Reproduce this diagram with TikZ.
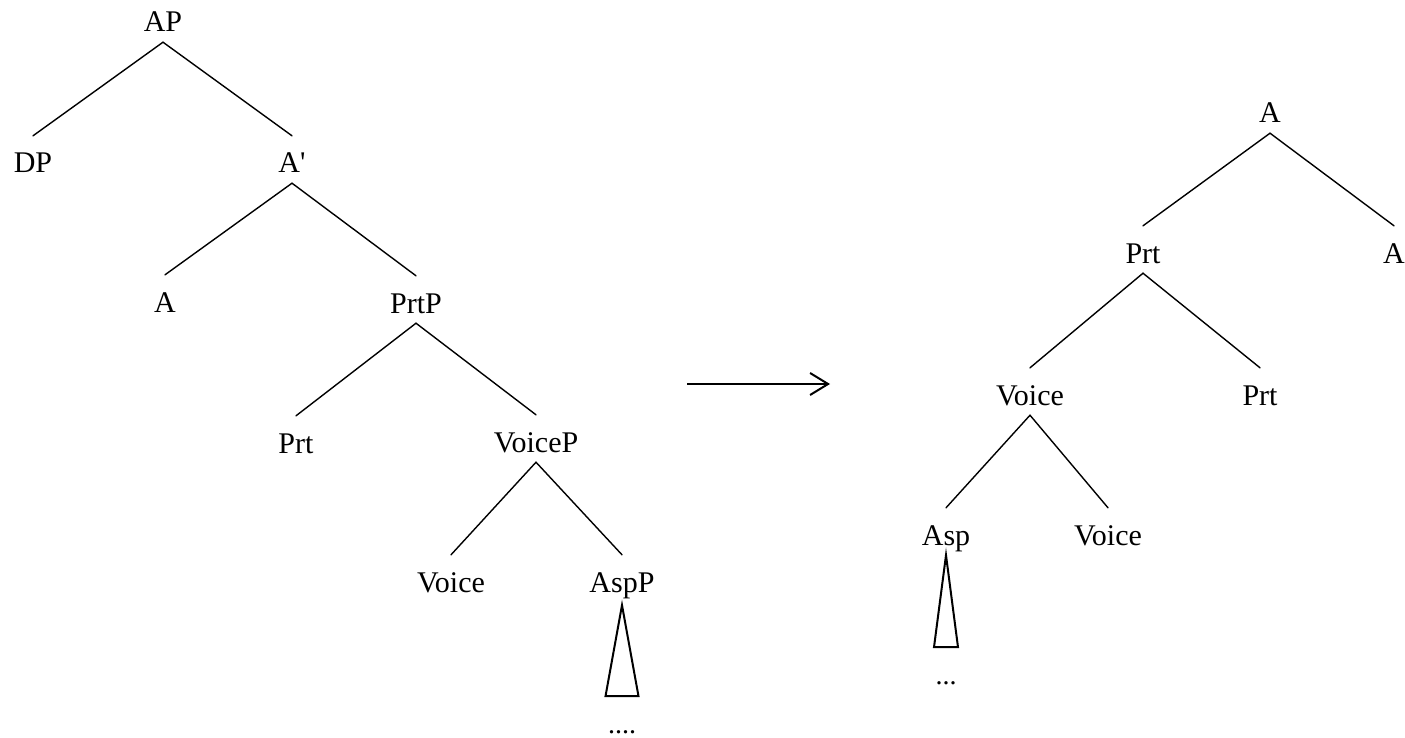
\documentclass[tikz,border=0pt]{standalone}
\usepackage{fontspec}
\setmainfont{Liberation Serif}
\usetikzlibrary{arrows.meta}
\begin{document}
\begin{tikzpicture}[x=1pt,y=-1pt,
  tn/.style={anchor=base, inner sep=0pt, text height=37pt, text depth=10pt, font=\fontsize{30}{36}\selectfont},
  dots/.style={anchor=base, inner sep=0pt, font=\fontsize{28}{34}\selectfont},
  branch/.style={line width=1.4pt, line cap=round},
  tri/.style={line width=2pt, line join=miter},
  arr/.style={line width=2pt, -{Straight Barb[length=18pt,width=22pt,line width=2pt]}}]
\useasboundingbox (0,0) rectangle (1405,738);
% left tree
\node[tn] (AP) at (163,32) {AP};
\node[tn] (DP) at (33,173) {DP};
\node[tn] (Ab) at (292,173) {A\textquotesingle};
\node[tn] (A) at (165,312) {A};
\node[tn] (PrtP) at (416,313) {PrtP};
\node[tn] (Prt) at (296,453) {Prt};
\node[tn] (VoiceP) at (536,452) {VoiceP};
\node[tn] (Voice) at (451,592) {Voice};
\node[tn] (AspP) at (622,592) {AspP};
\node[dots] (dL) at (622,733) {....};
\draw[branch] (AP.south) -- (DP.north);
\draw[branch] (AP.south) -- (Ab.north);
\draw[branch] (Ab.south) -- (A.north);
\draw[branch] (Ab.south) -- (PrtP.north);
\draw[branch] (PrtP.south) -- (Prt.north);
\draw[branch] (PrtP.south) -- (VoiceP.north);
\draw[branch] (VoiceP.south) -- (Voice.north);
\draw[branch] (VoiceP.south) -- (AspP.north);
\draw[tri] ([yshift=-3pt]AspP.south) -- ++(-16.5,91) -- ++(33,0) -- cycle;
% arrow
\coordinate (arrL) at (687,384);
\coordinate (arrR) at (830,384);
\draw[arr] (arrL) -- (arrR);
% right tree
\node[tn] (RA) at (1270,123) {A};
\node[tn] (RPrt) at (1143,263) {Prt};
\node[tn] (RA2) at (1394,263) {A};
\node[tn] (RVoice) at (1030,405) {Voice};
\node[tn] (RPrt2) at (1260,405) {Prt};
\node[tn] (RAsp) at (946,545) {Asp};
\node[tn] (RVoice2) at (1108,545) {Voice};
\node[dots] (dR) at (946,684) {...};
\draw[branch] (RA.south) -- (RPrt.north);
\draw[branch] (RA.south) -- (RA2.north);
\draw[branch] (RPrt.south) -- (RVoice.north);
\draw[branch] (RPrt.south) -- (RPrt2.north);
\draw[branch] (RVoice.south) -- (RAsp.north);
\draw[branch] (RVoice.south) -- (RVoice2.north);
\draw[tri] (RAsp.south) -- ++(-12,92) -- ++(24,0) -- cycle;
\end{tikzpicture}
\end{document}
